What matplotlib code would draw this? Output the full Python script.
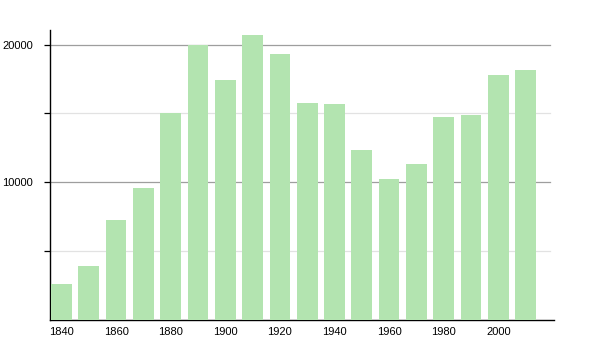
import matplotlib
matplotlib.use("Agg")
import matplotlib.pyplot as plt
import numpy as np

years = [1840, 1850, 1860, 1870, 1880, 1890, 1900, 1910, 1920,
         1930, 1940, 1950, 1960, 1970, 1980, 1990, 2000, 2010]
population = [2610, 3920, 7260, 9580, 15000, 19960, 17420, 20680, 19350,
              15750, 15670, 12340, 10230, 11320, 14710, 14880, 17800, 18140]
major_ticks = [10000, 20000]
minor_ticks = [5000, 15000]

plt.rcParams['font.family'] = ['Liberation Sans', 'DejaVu Sans']

fig = plt.figure(figsize=(6, 3.5), dpi=100)
ax = fig.add_axes([50/600, 1-320/350, 504/600, 290/350])

x = np.arange(len(years))
ax.bar(x, population, width=0.76, color='#b3e4b0', zorder=3)

ax.set_xlim(-0.42, 18.04)
ax.set_ylim(0, 21060)

ax.set_yticks(major_ticks)
ax.set_yticklabels([str(v) for v in major_ticks])
ax.set_yticks(minor_ticks, minor=True)
for v in major_ticks:
    ax.plot([-0.42, 17.9], [v, v], color='#9e9e9e', lw=0.9, zorder=1)
for v in minor_ticks:
    ax.plot([-0.42, 17.9], [v, v], color='#e2e2e2', lw=0.9, zorder=1)

ax.set_xticks(x[::2])
ax.set_xticklabels([str(y) for y in years[::2]])

ax.tick_params(axis='y', which='major', length=4, width=0.9, pad=8, labelsize=8, color='black')
ax.tick_params(axis='y', which='minor', length=4, width=0.9, color='black')
ax.tick_params(axis='x', length=0, pad=5, labelsize=8)

for s in ['top', 'right']:
    ax.spines[s].set_visible(False)
for s in ['left', 'bottom']:
    ax.spines[s].set_linewidth(1.0)
    ax.spines[s].set_color('black')

fig.savefig('out.png', dpi=100)
